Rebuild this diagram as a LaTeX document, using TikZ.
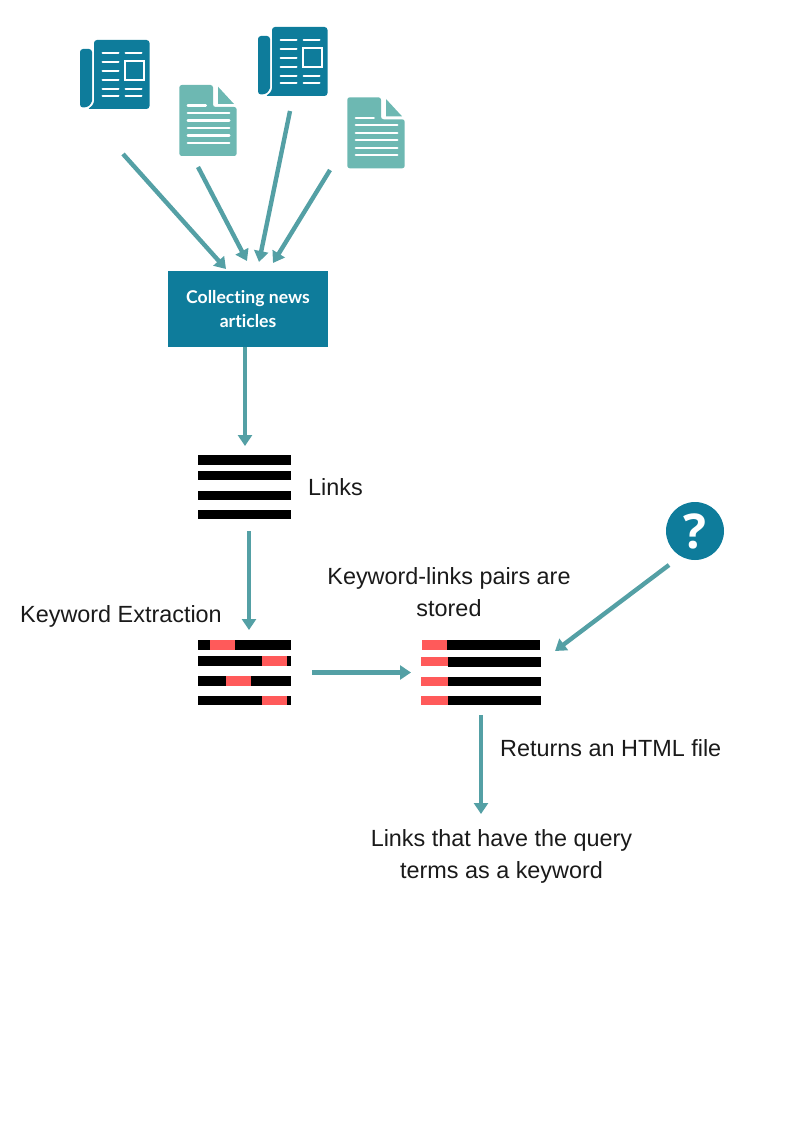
\documentclass[tikz,border=0pt]{standalone}
\usepackage{fontspec}
\setmainfont{Liberation Sans}
\newfontfamily\boxfont[Ligatures=NoCommon]{Lato}
\newfontfamily\markfont{Open Sans}
\usetikzlibrary{arrows.meta}
\definecolor{newsblue}{HTML}{0E7C9B}
\definecolor{docgreen}{HTML}{6DB8B2}
\definecolor{arrowteal}{HTML}{54A0A5}
\definecolor{keyred}{HTML}{FF5A5A}
\definecolor{labelgray}{HTML}{1A1A1A}
\tikzset{
    flow/.style={draw=arrowteal, line width=4.4pt, -{Triangle[length=11pt,width=14pt]}},
    label/.style={text=labelgray, font=\fontsize{23.4}{32}\selectfont, align=center, inner sep=0pt},
    linkbar/.style={fill=black, minimum width=93pt, minimum height=9.5pt, inner sep=0pt, outer sep=0pt},
    keybar/.style={fill=keyred, minimum width=25pt, minimum height=9.5pt, inner sep=0pt, outer sep=0pt},
    whiteline/.style={draw=white, line width=2pt, line cap=round},
    newspaper/.pic={
        \fill[newsblue, rounded corners=3pt] (-14,9) -- (-2,9) -- (-2,58) .. controls (-2,62) and (-4,65) .. (-7,67.5) -- (-14,67.5) -- cycle;
        \fill[newsblue, rounded corners=3pt] (0,0) -- (55.5,0) -- (55.5,69) -- (-7,69) .. controls (-3,67) and (0,64) .. (0,58) -- cycle;
        \foreach \y in {12.7,21.7,31,40,49.5,56}
            \draw[whiteline] (8.5,\y) -- (24.5,\y);
        \foreach \y in {12.7,49.5,56}
            \draw[whiteline] (31.5,\y) -- (47.5,\y);
        \draw[white, line width=2pt] (31,21.5) rectangle (49.5,40.5);
    },
    document/.pic={
        \fill[docgreen, rounded corners=2.5pt] (0,0) -- (33.7,0) -- (33.7,22) -- (57.4,22) -- (57.4,71) -- (0,71) -- cycle;
        \fill[docgreen] (38.7,1.7) -- (54.7,19) -- (38.7,19) -- cycle;
        \draw[whiteline, line width=2.4pt] (8.5,20.7) -- (26.5,20.7);
        \foreach \y in {28,35.7,43,50.7,58}
            \draw[whiteline, line width=2.4pt] (8.5,\y) -- (50,\y);
    }
}
\begin{document}
\begin{tikzpicture}[x=1pt, y=-1pt]
    \useasboundingbox (0,0) rectangle (794,1123);

    % source icons
    \pic at (94,40) {newspaper};
    \pic at (272,27) {newspaper};
    \pic at (179.3,85) {document};
    \pic at (347.3,97.3) {document};

    \coordinate (from1) at (123,154);
    \coordinate (from2) at (198,167);
    \coordinate (from3) at (290,111);
    \coordinate (from4) at (330,170);
    \coordinate (to1) at (226,269);
    \coordinate (to2) at (247,261);
    \coordinate (to3) at (259,262);
    \coordinate (to4) at (273,263);

    \draw[flow] (from1) -- (to1);
    \draw[flow] (from2) -- (to2);
    \draw[flow] (from3) -- (to3);
    \draw[flow] (from4) -- (to4);

    \node[fill=newsblue, minimum width=160pt, minimum height=76pt, inner sep=0pt, text=white, align=center,
        font=\boxfont\bfseries\fontsize{17.6}{24}\selectfont] (collect) at (248,309) {Collecting news\\articles};

    % links
    \foreach \n/\y in {1/460,2/475.5,3/495.5,4/514.5}
        \node[linkbar] (link\n) at (244.5,\y) {};
    \node[label, anchor=west] (linkstext) at (308,487) {Links};

    \coordinate (collectout) at (245,347);
    \coordinate (linksin) at (245,446);
    \draw[flow] (collectout) -- (linksin);

    % keyword extraction
    \node[label] (extracttext) at (121,616) {Keyword Extraction};
    \foreach \n/\y in {1/645,2/661,3/681,4/700.3}
        \node[linkbar] (kbar\n) at (244.5,\y) {};
    \foreach \n/\x/\y in {1/222.5/645,2/274.5/661,3/238.5/681,4/274.5/700.3}
        \node[keybar] (kred\n) at (\x,\y) {};

    \coordinate (linksout) at (249,531);
    \coordinate (extractin) at (249,630);
    \draw[flow] (linksout) -- (extractin);

    % stored pairs
    \node[label] (storetext) at (449,592) {Keyword-links pairs are\\stored};
    \foreach \n/\x/\y in {1/493.5/645,2/494.5/662,3/494/681.7,4/494.5/700.3}
        \node[linkbar] (sbar\n) at (\x,\y) {};
    \foreach \n/\x/\y/\w in {1/434.5/645/25,2/434.5/661.3/27,3/434.5/681.7/27,4/434.5/700.3/27}
        \node[keybar, minimum width=\w pt] (sred\n) at (\x,\y) {};

    \coordinate (kbarsout) at (312,672.5);
    \coordinate (storein) at (411,672.5);
    \draw[flow] (kbarsout) -- (storein);

    % query
    \node[circle, fill=newsblue, minimum size=58pt, inner sep=0pt, text=white,
        font=\markfont\bfseries\fontsize{48}{48}\selectfont] (query) at (695,531) {?};
    \coordinate (queryout) at (669,565);
    \coordinate (queryin) at (555,651);
    \draw[flow] (queryout) -- (queryin);

    % result
    \coordinate (storeout) at (481,715);
    \coordinate (resultin) at (481,814);
    \draw[flow] (storeout) -- (resultin);
    \node[label, anchor=west] (returntext) at (500,748) {Returns an HTML file};
    \node[label] (resulttext) at (501.5,856.5) {Links that have the query\\terms as a keyword};
\end{tikzpicture}
\end{document}
